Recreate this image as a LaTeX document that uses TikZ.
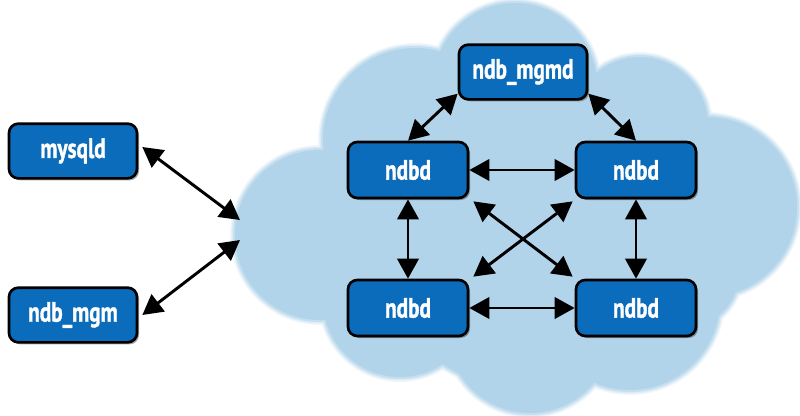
\documentclass[tikz,border=0pt]{standalone}
\usepackage{fontspec}
\setsansfont{PT Sans}[FakeStretch=0.76,FakeBold=1.2]
\usetikzlibrary{arrows.meta,shadows,calc}
\definecolor{cloudblue}{RGB}{178,212,234}
\definecolor{boxblue}{RGB}{10,108,186}
\tikzset{
  box/.style={draw=black, line width=2pt, fill=boxblue, rounded corners=7pt,
    text=white, font=\sffamily\bfseries\fontsize{21}{22}\selectfont,
    minimum width=90pt, minimum height=42pt, inner sep=0pt,
    drop shadow={shadow xshift=1.5pt, shadow yshift=-1.5pt, opacity=0.35, fill=black}},
  tipA/.tip={Triangle[length=15pt,width=16pt]},
  link/.style={line width=2.2pt, draw=black, tipA-tipA}
}
\newcommand{\cloudlayer}[2]{%
  \foreach \cx/\cy/\cr in {515/85/82, 415/140/92, 640/125/68, 707/207/90, 320/235/85,
      400/300/77, 530/330/83, 630/300/90, 680/270/60, 530/230/160}
    {\fill[#2] (\cx,\cy) circle[radius=\cr+#1];}}
\begin{document}
\begin{tikzpicture}[x=0.75pt,y=-0.75pt]
\useasboundingbox (0,0) rectangle (800,415);
% cloud with soft edge
\cloudlayer{5}{cloudblue!20!white}
\cloudlayer{3.5}{cloudblue!45!white}
\cloudlayer{2}{cloudblue!75!white}
\cloudlayer{0}{cloudblue}
% nodes
\node[box, minimum width=96pt, minimum height=41pt] (mysqld) at (73,151) {mysqld};
\node[box, minimum width=96pt, minimum height=41pt] (ndbmgm) at (73,315) {ndb\_mgm};
\node[box, minimum width=96pt, minimum height=41pt] (mgmd) at (523,72) {ndb\_mgmd};
\node[box] (tl) at (408,170) {ndbd};
\node[box] (tr) at (636,170) {ndbd};
\node[box] (bl) at (408,308) {ndbd};
\node[box] (br) at (636,308) {ndbd};
\coordinate (c1) at (240,220);
\coordinate (c2) at (240,240);
% connectors
\draw[link] ($(mysqld.east)+(4,-4)$) -- (c1);
\draw[link] ($(ndbmgm.east)+(4,0)$) -- (c2);
\draw[link] ($(mgmd.south west)+(0,-7)$) -- (tl.north);
\draw[link] ($(mgmd.south east)+(0,-7)$) -- (tr.north);
\draw[link] (tl.east) -- (tr.west);
\draw[link] (bl.east) -- (br.west);
\draw[link] (tl.south) -- (bl.north);
\draw[link] (tr.south) -- (br.north);
\draw[link] ($(tl.south east)+(4,2)$) -- ($(br.north west)+(-2,-2)$);
\draw[link] ($(tr.south west)+(-2,2)$) -- ($(bl.north east)+(4,-2)$);
\end{tikzpicture}
\end{document}
